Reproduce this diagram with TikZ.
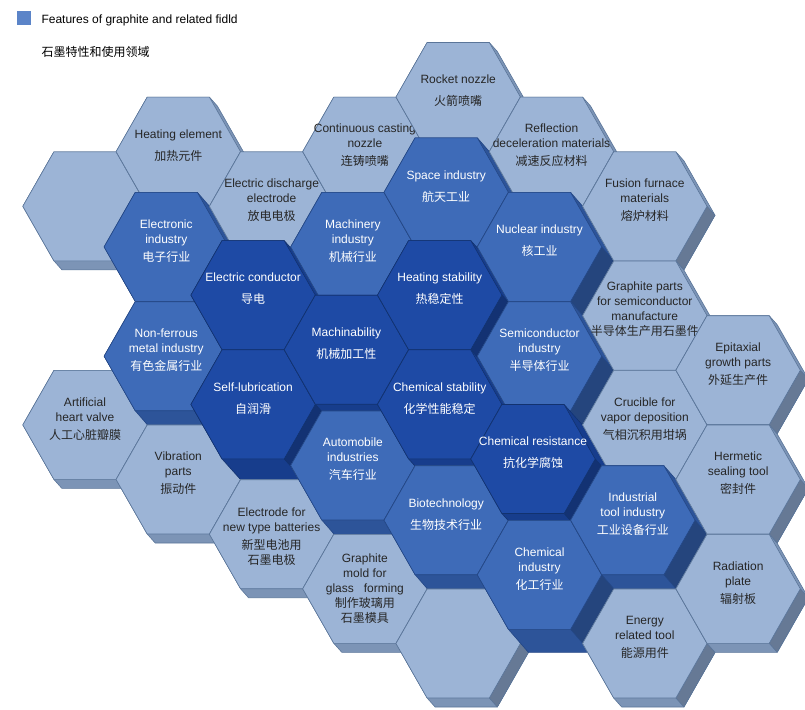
\documentclass[tikz,border=0pt]{standalone}
\usepackage{fontspec}
\setmainfont{Liberation Sans}
\newfontfamily\cjk{Noto Sans CJK SC}
\usepackage{tikz}

\definecolor{prodtop}{HTML}{9CB4D6}
\definecolor{prodside}{HTML}{7C94B6}
\definecolor{prodedge}{HTML}{5A7599}
\definecolor{indtop}{HTML}{3E6BB8}
\definecolor{indside}{HTML}{2D5499}
\definecolor{indedge}{HTML}{244785}
\definecolor{feattop}{HTML}{1E4AA5}
\definecolor{featside}{HTML}{173D8C}
\definecolor{featedge}{HTML}{12326F}
\definecolor{keyblue}{HTML}{5B84C8}

\tikzset{
  product/.code={\def\topx{0}\def\topy{0}\def\sidex{8}\def\sidey{9}%
    \colorlet{celltop}{prodtop}\colorlet{cellside}{prodside}%
    \colorlet{celledge}{prodedge}\colorlet{celltext}{black!85}},
  industry/.code={\def\topx{-12}\def\topy{-14}\def\sidex{20}\def\sidey{23}%
    \colorlet{celltop}{indtop}\colorlet{cellside}{indside}%
    \colorlet{celledge}{indedge}\colorlet{celltext}{white}},
  feature/.code={\def\topx{-18.5}\def\topy{-20.5}\def\sidex{26.5}\def\sidey{29.5}%
    \colorlet{celltop}{feattop}\colorlet{cellside}{featside}%
    \colorlet{celledge}{featedge}\colorlet{celltext}{white}},
  cell text/.style={align=center, inner sep=0pt, text=celltext,
    font=\fontsize{12}{15}\selectfont},
  cell line/.style={draw=celledge, line width=0.6pt, line join=round},
}

% [#1 label lift], #2 tier, #3 #4 grid position, #5 name, #6 label
\newcommand{\hexcell}[6][6pt]{%
  \begin{scope}[#2]
    \coordinate (#5) at (#3+\topx,#4+\topy);
    \filldraw[cell line, fill=cellside] (#5) ++(31.1,-54.5) -- ++(-62.2,0)
      -- ++(-31.1,54.5) -- ++(31.1,54.5) -- ++(\sidex,\sidey) -- ++(62.2,0)
      -- ++(31.1,-54.5) -- ++(-31.1,-54.5) -- cycle;
    \filldraw[cell line, fill=cellside!82!black] (#5) ++(31.1,54.5)
      -- ++(31.1,-54.5) -- ++(\sidex,\sidey) -- ++(-31.1,54.5) -- cycle;
    \filldraw[cell line, fill=celltop] (#5) ++(62.2,0) -- ++(-31.1,-54.5)
      -- ++(-62.2,0) -- ++(-31.1,54.5) -- ++(31.1,54.5) -- ++(62.2,0) -- cycle;
    \node[cell text] (#5-l) at ([yshift=#1]#5) {#6};
  \end{scope}}

\begin{document}
\begin{tikzpicture}[x=1pt,y=-1pt]
\useasboundingbox (0,0) rectangle (805,709);

\node[fill=keyblue, minimum size=14pt, inner sep=0pt] (key) at (24,18) {};
\node[anchor=west, font=\fontsize{12}{14}\selectfont] (title) at (38,20) {Features of graphite and related fidld};
\node[anchor=west, font=\fontsize{12}{14}\selectfont] (subtitle) at (38,52) {\cjk 石墨特性和使用领域};

% back to front
\hexcell{product}{85}{206.3}{blank-a}{}
\hexcell{product}{178.3}{151.6}{heater}{Heating element\\[7pt]{\cjk 加热元件}}
\hexcell{industry}{178.3}{260.9}{electronic}{Electronic\\industry\\[3pt]{\cjk 电子行业}}
\hexcell{product}{271.6}{206.3}{discharge}{Electric discharge\\electrode\\[3pt]{\cjk 放电电极}}
\hexcell{product}{85}{424.9}{valve}{Artificial\\heart valve\\[3pt]{\cjk 人工心脏瓣膜}}
\hexcell{product}{364.9}{151.6}{casting}{Continuous casting\\nozzle\\[3pt]{\cjk 连铸喷嘴}}
\hexcell{industry}{178.3}{370.2}{nonferrous}{Non-ferrous\\metal industry\\[3pt]{\cjk 有色金属行业}}
\hexcell{product}{458.2}{97}{rocket}{Rocket nozzle\\[7pt]{\cjk 火箭喷嘴}}
\hexcell{feature}{271.6}{315.6}{conductor}{Electric conductor\\[7pt]{\cjk 导电}}
\hexcell{industry}{364.9}{260.9}{machinery}{Machinery\\industry\\[3pt]{\cjk 机械行业}}
\hexcell{product}{178.3}{479.5}{vibration}{Vibration\\parts\\[3pt]{\cjk 振动件}}
\hexcell{industry}{458.2}{206.3}{space}{Space industry\\[7pt]{\cjk 航天工业}}
\hexcell{feature}{271.6}{424.9}{lubrication}{Self-lubrication\\[7pt]{\cjk 自润滑}}
\hexcell{product}{551.5}{151.6}{reflection}{Reflection\\deceleration materials\\[3pt]{\cjk 减速反应材料}}
\hexcell{feature}{364.9}{370.2}{machinability}{Machinability\\[7pt]{\cjk 机械加工性}}
\hexcell{feature}{458.2}{315.6}{thermal}{Heating stability\\[7pt]{\cjk 热稳定性}}
\hexcell[-2pt]{product}{271.6}{534.2}{battery}{Electrode for\\new type batteries\\[3pt]{\cjk 新型电池用}\\{\cjk 石墨电极}}
\hexcell{industry}{551.5}{260.9}{nuclear}{Nuclear industry\\[7pt]{\cjk 核工业}}
\hexcell{industry}{364.9}{479.5}{automobile}{Automobile\\industries\\[3pt]{\cjk 汽车行业}}
\hexcell{product}{644.8}{206.3}{fusion}{Fusion furnace\\materials\\[3pt]{\cjk 熔炉材料}}
\hexcell{feature}{458.2}{424.9}{stability}{Chemical stability\\[7pt]{\cjk 化学性能稳定}}
\hexcell{industry}{551.5}{370.2}{semiconductor}{Semiconductor\\industry\\[3pt]{\cjk 半导体行业}}
\hexcell[0pt]{product}{364.9}{588.8}{mould}{Graphite\\mold for\\glass\ \ \ forming\\{\cjk 制作玻璃用}\\{\cjk 石墨模具}}
\hexcell{product}{644.8}{315.6}{parts}{Graphite parts\\for semiconductor\\manufacture\\{\cjk 半导体生产用石墨件}}
\hexcell{industry}{458.2}{534.2}{biotech}{Biotechnology\\[7pt]{\cjk 生物技术行业}}
\hexcell{feature}{551.5}{479.5}{resistance}{Chemical resistance\\[7pt]{\cjk 抗化学腐蚀}}
\hexcell{product}{644.8}{424.9}{crucible}{Crucible for\\vapor deposition\\[3pt]{\cjk 气相沉积用坩埚}}
\hexcell{product}{458.2}{643.5}{blank-b}{}
\hexcell{product}{738.1}{370.2}{epitaxial}{Epitaxial\\growth parts\\[3pt]{\cjk 外延生产件}}
\hexcell{industry}{551.5}{588.8}{chemical}{Chemical\\industry\\[3pt]{\cjk 化工行业}}
\hexcell{industry}{644.8}{534.2}{tooling}{Industrial\\tool industry\\[3pt]{\cjk 工业设备行业}}
\hexcell{product}{738.1}{479.5}{sealing}{Hermetic\\sealing tool\\[3pt]{\cjk 密封件}}
\hexcell{product}{644.8}{643.5}{energy}{Energy\\related tool\\[3pt]{\cjk 能源用件}}
\hexcell{product}{738.1}{588.8}{radiation}{Radiation\\plate\\[3pt]{\cjk 辐射板}}
\end{tikzpicture}
\end{document}
